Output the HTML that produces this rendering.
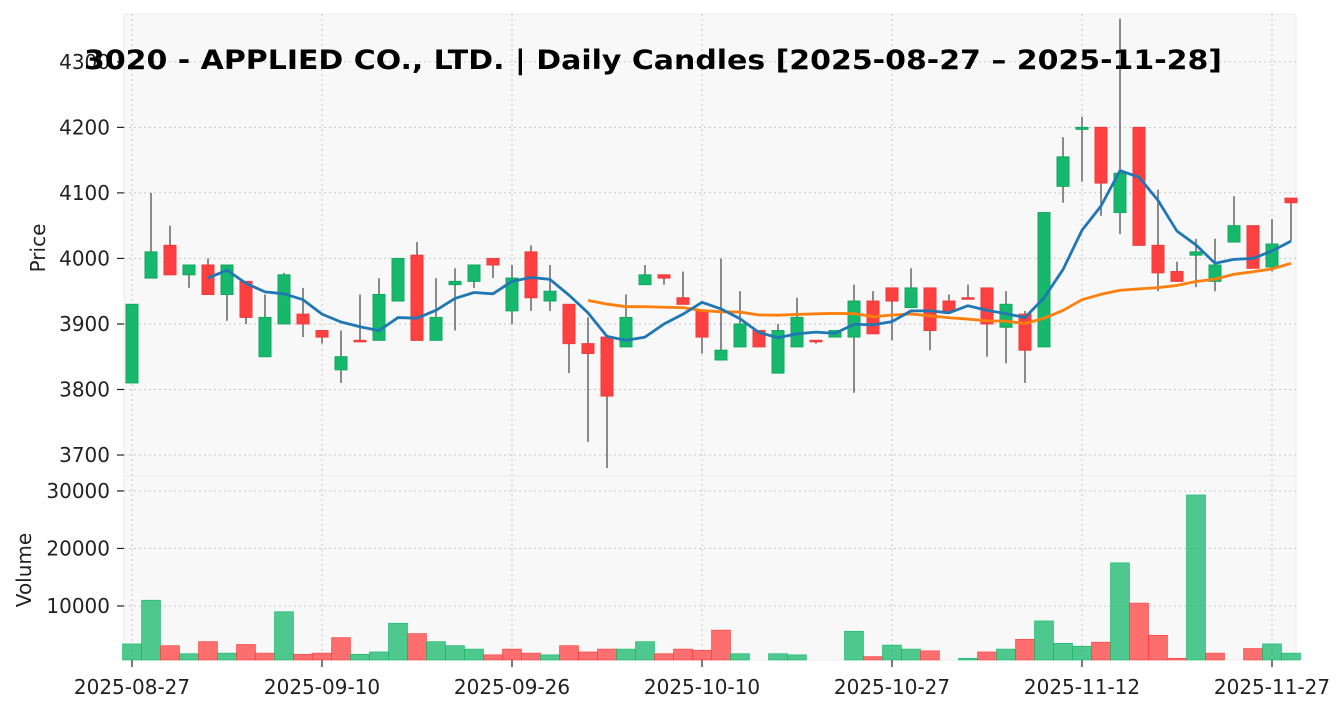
<!DOCTYPE html>
<html><head><meta charset="utf-8"><style>
body{margin:0;background:#fff;}
svg{display:block;font-family:"DejaVu Sans","Liberation Sans",sans-serif;}
</style></head><body>
<svg id="c" width="1344" height="711"></svg>
<script>
const dates=["2025-08-27","2025-09-10","2025-09-26","2025-10-10","2025-10-27","2025-11-12","2025-11-27"];
const dateIdx=[0,10,20,30,40,50,60];
const opens=[3810,3970,4020,3975,3990,3945,3965,3850,3900,3915,3890,3830,3875,3875,3935,4005,3875,3960,3965,4000,3920,4010,3935,3930,3870,3880,3865,3960,3975,3940,3920,3845,3865,3890,3825,3865,3875,3880,3880,3935,3955,3925,3955,3935,3940,3955,3895,3915,3865,4110,4197,4200,4070,4200,4020,3980,4005,3965,4025,4050,3987,4092];
const closes=[3930,4010,3975,3990,3945,3990,3910,3910,3975,3900,3880,3850,3874,3945,4000,3875,3910,3965,3990,3990,3970,3940,3950,3870,3855,3790,3910,3975,3970,3930,3880,3860,3900,3865,3890,3910,3873,3890,3935,3885,3935,3955,3890,3920,3939,3900,3930,3860,4070,4155,4200,4115,4130,4020,3978,3965,4010,3990,4050,3985,4022,4085];
const highs=[3930,4100,4050,3990,4000,3990,3965,3945,3978,3955,3890,3890,3945,3970,4000,4025,3970,3985,3990,4000,3990,4020,3990,3930,3910,3880,3945,3990,3975,3980,3920,4000,3950,3890,3900,3940,3875,3890,3960,3950,3955,3985,3955,3945,3960,3955,3950,3920,4070,4185,4216,4200,4366,4200,4105,3995,4030,4030,4095,4050,4060,4092];
const lows=[3810,3970,3975,3955,3945,3905,3900,3850,3900,3880,3870,3810,3874,3875,3935,3875,3875,3890,3955,3970,3900,3920,3920,3825,3720,3680,3865,3960,3960,3930,3855,3845,3865,3865,3825,3865,3870,3880,3795,3885,3875,3925,3860,3920,3939,3850,3840,3810,3865,4085,4117,4065,4037,4020,3950,3965,3956,3950,4025,3985,3980,4027];
const volumes=[3400,11000,3100,1700,3800,1800,3300,1800,9000,1600,1800,4500,1600,2000,7000,5200,3800,3100,2500,1500,2500,1800,1500,3100,2000,2500,2500,3800,1700,2500,2300,5800,1700,500,1700,1500,300,300,5600,1200,3200,2500,2200,500,900,2000,2500,4200,7400,3500,3000,3700,17500,10500,4900,900,29300,1800,300,2600,3400,1800];
const priceTicks=[3700,3800,3900,4000,4100,4200,4300];
const volTicks=[10000,20000,30000];

const NS="http://www.w3.org/2000/svg";
const svg=document.getElementById('c');
function mk(t,a,p){const e=document.createElementNS(NS,t);for(const k in a)e.setAttribute(k,a[k]);(p||svg).appendChild(e);return e;}
const L=124,R=1296,PT=14,PB=476,VT=476,VB=660;
const pMin=3668,pMax=4373,vMin=600,vMax=32600;
const xs=i=>132+19*i;
const yp=p=>PB-(p-pMin)/(pMax-pMin)*(PB-PT);
const yv=v=>VB-(v-vMin)/(vMax-vMin)*(VB-VT);
const FS=20;

let g=mk('rect',{x:L,y:PT,width:R-L,height:PB-PT,fill:'#f8f8f8',stroke:'#ebebeb'});

g=mk('rect',{x:L,y:VT,width:R-L,height:VB-VT,fill:'#f8f8f8',stroke:'#ebebeb'});


dateIdx.forEach((d,k)=>{
  const x=xs(d);
  let l=mk('line',{x1:x,x2:x,y1:PT,y2:VB,stroke:'#c8c8c8','stroke-dasharray':'2,3'});
  
  l=mk('line',{x1:x,x2:x,y1:VB,y2:VB+7,stroke:'#222','stroke-width':1.2});
  
  let t=mk('text',{x:x,y:694,'text-anchor':'middle','font-size':FS,fill:'#222'});t.textContent=dates[k];
  
});
function ytick(y,txt,nm){
  let l=mk('line',{x1:L,x2:R,y1:y,y2:y,stroke:'#c8c8c8','stroke-dasharray':'2,3'});
  
  l=mk('line',{x1:L-7,x2:L,y1:y,y2:y,stroke:'#222','stroke-width':1.2});
  
  let t=mk('text',{x:110,y:y+7,'text-anchor':'end','font-size':FS,fill:'#222'});t.textContent=txt;
  
}
priceTicks.forEach(p=>ytick(yp(p),p,'price'));
volTicks.forEach(v=>ytick(yv(v),v,'volume'));

volumes.forEach((v,i)=>{
  const up=i===0?true:closes[i]>closes[i-1];
  const y=yv(v);
  let r=mk('rect',{x:xs(i)-9.5,y:y,width:19,height:VB-y,fill:up?'#16b86b':'#ff4040','fill-opacity':0.75,stroke:up?'#16b86b':'#ff4040','stroke-width':0.6});
  
});

opens.forEach((o,i)=>{
  const c=closes[i],up=c>=o,x=xs(i);
  let w=mk('line',{x1:x,x2:x,y1:yp(highs[i]),y2:yp(lows[i]),stroke:'#666','stroke-width':1.5});
  
  const top=yp(Math.max(o,c)),bot=yp(Math.min(o,c));
  let b=mk('rect',{x:x-6,y:top,width:12,height:Math.max(bot-top,1.5),fill:up?'#16b86b':'#ff4040',stroke:up?'#12a860':'#f03a3a','stroke-width':1});
  
});

function ma(n){const out=[];for(let i=n-1;i<closes.length;i++){let s=0;for(let j=i-n+1;j<=i;j++)s+=closes[j];out.push([i,s/n]);}return out;}
function line(pts,col,name){
  let p=mk('polyline',{points:pts.map(([i,v])=>xs(i)+','+yp(v)).join(' '),fill:'none',stroke:col,'stroke-width':2.8,'stroke-linejoin':'round'});
  
}
line(ma(25),'#ff7f0e','ma25-line');
line(ma(5),'#1f77b4','ma5-line');

let t=mk('text',{x:653,y:69,'text-anchor':'middle','font-size':27,'font-weight':'bold',fill:'#000',textLength:1138,lengthAdjust:'spacingAndGlyphs'});
t.textContent='3020 - APPLIED CO., LTD. | Daily Candles [2025-08-27 – 2025-11-28]';

t=mk('text',{x:45,y:248,'text-anchor':'middle','font-size':FS,fill:'#222',transform:'rotate(-90 45 248)'});t.textContent='Price';

t=mk('text',{x:31,y:570,'text-anchor':'middle','font-size':FS,fill:'#222',transform:'rotate(-90 31 570)'});t.textContent='Volume';

</script>
</body></html>
